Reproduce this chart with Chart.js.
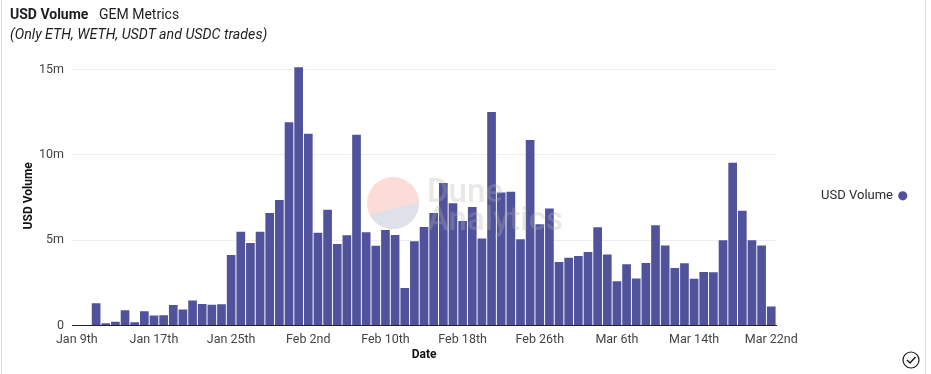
<!DOCTYPE html>
<html><head><meta charset="utf-8">
<script src="https://cdn.jsdelivr.net/npm/chart.js@4"></script>
<style>
html,body{margin:0;padding:0;background:#fff;width:931px;height:374px;overflow:hidden;font-family:Roboto,sans-serif}
#wrap{position:relative;width:931px;height:374px}
#frameL{position:absolute;left:1px;top:0;width:1px;height:374px;background:#ecd6cf}
#frameR{position:absolute;left:925px;top:0;width:1px;height:374px;background:#ecd6cf}
canvas{position:absolute;left:0;top:0}
.t{position:absolute;white-space:nowrap;color:#1d1d22}
#t1{left:10px;top:6px;font-size:14px;font-weight:700}
#t2{left:99px;top:6px;font-size:14px;font-weight:400}
#t3{left:10px;top:26px;font-size:14.2px;font-style:italic}
svg{position:absolute;left:0;top:0;pointer-events:none}
</style></head><body>
<div id="wrap">
<div id="frameL"></div><div id="frameR"></div>
<canvas id="c" width="931" height="374"></canvas>
<svg width="931" height="374" viewBox="0 0 931 374">
<clipPath id="cc"><circle cx="393" cy="203" r="26"/></clipPath>
<g clip-path="url(#cc)">
<rect x="360" y="170" width="70" height="70" fill="#fbdcd6"/>
<polygon points="360,217 430,199 430,240 360,240" fill="#dfe1ea"/>
</g>
<text x="427" y="202" font-family="Roboto" font-weight="500" font-size="33" fill="#b4b4b4" fill-opacity="0.3">Dune</text>
<text x="427" y="230" font-family="Roboto" font-weight="500" font-size="33" fill="#b4b4b4" fill-opacity="0.3">Analytics</text>
<circle cx="911" cy="360" r="8" fill="none" stroke="#1a1a1a" stroke-width="1.2"/>
<path d="M907 360 L910 363 L915.5 357" fill="none" stroke="#1a1a1a" stroke-width="1.5"/>
</svg>
<div class="t" id="t1">USD Volume</div>
<div class="t" id="t2">GEM Metrics</div>
<div class="t" id="t3">(Only ETH, WETH, USDT and USDC trades)</div>
</div>
<script>
const months = [["Jan",9,31],["Feb",1,28],["Mar",1,22]];
const suffix = d => (d%10===1&&d!==11)?"st":(d%10===2&&d!==12)?"nd":(d%10===3&&d!==13)?"rd":"th";
const categories = [];
months.forEach(([m,s,e])=>{for(let d=s;d<=e;d++)categories.push(m+" "+d+suffix(d));});
const usdVolume = [
0.02,0.04,1.31,0.14,0.23,0.9,0.2,0.84,0.59,0.61,
1.2,0.94,1.47,1.27,1.22,1.25,4.14,5.49,4.84,5.49,
6.59,7.35,11.9,15.13,11.23,5.43,6.78,4.78,5.29,11.18,
5.47,4.67,5.6,5.31,2.2,4.94,5.78,6.6,8.35,7.16,
6.12,6.94,5.1,12.5,7.8,7.84,5.06,10.86,5.94,6.86,
3.73,3.98,4.08,4.31,5.76,4.16,2.6,3.59,2.76,3.67,
5.88,4.69,3.37,3.65,2.75,3.14,3.12,5.0,9.53,6.73,
5.0,4.69,1.12].map(v=>v*1e6);
const yTicks = [0,5e6,10e6,15e6];
const barColor = "#50529b";
new Chart(document.getElementById("c"),{
  type:"bar",
  data:{labels:categories,datasets:[{label:"USD Volume",data:usdVolume,backgroundColor:barColor,borderWidth:0,barPercentage:0.9,categoryPercentage:1}]},
  options:{
    responsive:false,animation:false,
    layout:{padding:{left:22,right:1,top:66,bottom:12}},
    plugins:{
      tooltip:{enabled:false},
      legend:{position:"right",fullSize:false,rtl:true,align:"center",
        labels:{usePointStyle:true,pointStyle:"circle",boxWidth:6.5,boxHeight:6.5,padding:24,color:"#2a2a30",font:{family:"Roboto",size:13}}}
    },
    scales:{
      x:{
        title:{display:true,text:"Date",color:"#111",font:{family:"Roboto",size:12,weight:"700"},padding:{top:-7,bottom:0}},
        grid:{display:false,drawTicks:false},
        border:{display:true,color:"#222",width:1},
        ticks:{autoSkip:false,maxRotation:0,minRotation:0,color:"#444",padding:7,font:{family:"Roboto",size:12.5},
          callback:function(v,i){return i%8===0?categories[i]:"";}}
      },
      y:{
        min:0,max:15.2e6,
        afterFit:s=>{s.width=50;},
        afterBuildTicks:s=>{s.ticks=yTicks.map(v=>({value:v}));},
        title:{display:true,text:"USD Volume",color:"#111",font:{family:"Roboto",size:12,weight:"700"},padding:{top:0,bottom:0}},
        grid:{color:"#eeeef0",drawTicks:false},
        border:{display:false},
        ticks:{color:"#444",padding:8,font:{family:"Roboto",size:12.5},callback:v=>v===0?"0":(v/1e6)+"m"}
      },
      gap:{
        type:"linear",position:"right",display:true,
        afterFit:s=>{s.width=35;},
        grid:{display:false,drawTicks:false},border:{display:false},ticks:{display:false}
      }
    }
  }
});
</script>
</body></html>
